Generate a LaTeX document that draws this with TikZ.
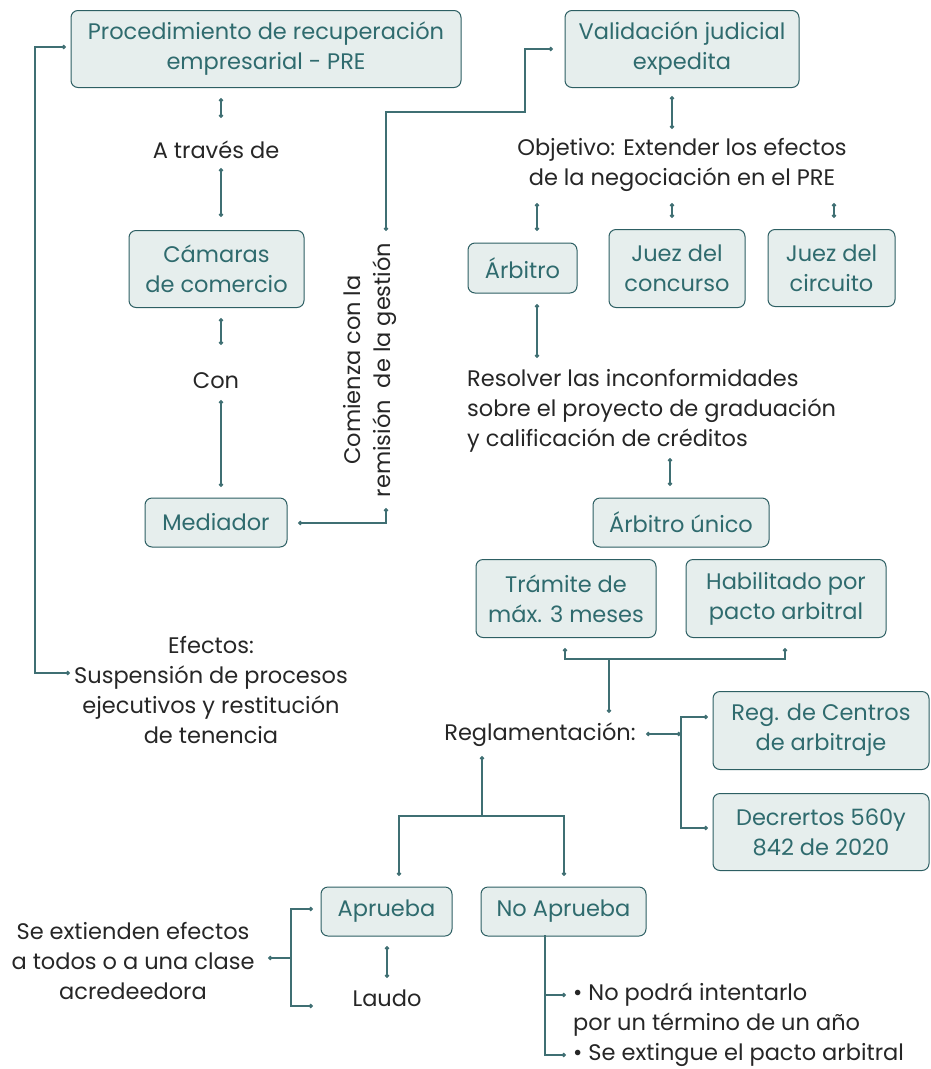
\documentclass[tikz,border=0pt]{standalone}
\usepackage{fontspec}
\setmainfont{Poppins}
\usetikzlibrary{arrows.meta}
\definecolor{boxfill}{HTML}{E6EEED}
\definecolor{boxdraw}{HTML}{2D5F63}
\definecolor{boxtext}{HTML}{2F6B6E}
\definecolor{plaintext}{HTML}{262626}
\definecolor{linecol}{HTML}{3F6F73}
\tikzset{
  box/.style={draw=boxdraw, fill=boxfill, line width=1pt, rounded corners=7pt,
    text=boxtext, align=center, inner sep=0pt, font=\fontsize{22.5}{30}\selectfont},
  plain/.style={text=plaintext, align=center, inner sep=0pt, font=\fontsize{22.5}{30}\selectfont},
  conn/.style={draw=linecol, line width=1.1pt},
  dd/.style={conn, {Circle[length=4.5pt]}-{Circle[length=4.5pt]}},
  de/.style={conn, -{Circle[length=4.5pt]}},
}
\begin{document}
\begin{tikzpicture}[x=1pt,y=-1pt]
\useasboundingbox (0,0) rectangle (931,1069);
% boxes
\node[box, minimum width=390, minimum height=77] (b1) at (266,49) {Procedimiento de recuperación\\empresarial - PRE};
\node[box, minimum width=234, minimum height=77] (b2) at (682,49) {Validación judicial\\expedita};
\node[box, minimum width=175, minimum height=77] (camaras) at (216.5,269) {Cámaras\\de comercio};
\node[box, minimum width=142, minimum height=49] (mediador) at (216,522.5) {Mediador};
\node[box, minimum width=109, minimum height=50] (arbitro) at (522.5,268) {Árbitro};
\node[box, minimum width=136, minimum height=78] (juezc) at (677,268.5) {Juez del\\concurso};
\node[box, minimum width=127, minimum height=77] (juezci) at (831.5,268) {Juez del\\circuito};
\node[box, minimum width=176, minimum height=49] (unico) at (681,522.5) {Árbitro único};
\node[box, minimum width=180, minimum height=78] (tramite) at (566,598.5) {Trámite de\\máx. 3 meses};
\node[box, minimum width=200, minimum height=78] (habil) at (786,598.5) {Habilitado por\\pacto arbitral};
\node[box, minimum width=216, minimum height=78] (reg) at (821,730.5) {Reg. de Centros\\de arbitraje};
\node[box, minimum width=216, minimum height=77] (decr) at (821,832) {Decrertos 560y\\842 de 2020};
\node[box, minimum width=131, minimum height=49] (aprueba) at (386.5,911.5) {Aprueba};
\node[box, minimum width=165, minimum height=49] (noaprueba) at (563.5,911.5) {No Aprueba};
% plain texts
\node[plain] (atraves) at (216,149.5) {A través de};
\node[plain] (con) at (216,380.5) {Con};
\node[plain, rotate=90] (comienza) at (370,370) {Comienza con la\\remisión\ \ de la gestión};
\node[plain] (objetivo) at (682,164.5) {Objetivo: Extender los efectos\\de la negociación en el PRE};
\node[plain, align=left, anchor=west] (resolver) at (467,410.5) {Resolver las inconformidades\\sobre el proyecto de graduación\\y calificación de créditos};
\node[plain] (regl) at (540,734.5) {Reglamentación:};
\node[plain] (laudo) at (387,998.5) {Laudo};
\node[plain] (seext) at (133,960.5) {Se extienden efectos\\a todos o a una clase\\acredeedora};
\node[plain, align=left, anchor=west] (noap) at (573,1024.5) {• No podrá intentarlo\\por un término de un año\\• Se extingue el pacto arbitral};
\node[plain] (efectos) at (211,689.5) {Efectos:\\Suspensión de procesos\\ejecutivos y restitución\\de tenencia};
% connector end points
\coordinate (c1a) at (66,47);   \coordinate (c1b) at (70,673);
\coordinate (c2a) at (221,98);  \coordinate (c2b) at (221,118);
\coordinate (c3a) at (221,168); \coordinate (c3b) at (221,217);
\coordinate (c4a) at (221,318); \coordinate (c4b) at (221,345);
\coordinate (c5a) at (221,400); \coordinate (c5b) at (221,487);
\coordinate (c6a) at (298,523); \coordinate (c6b) at (386,508);
\coordinate (c7a) at (386,231); \coordinate (c7b) at (553,49);
\coordinate (c8a) at (672,96);  \coordinate (c8b) at (672,129);
\coordinate (c9a) at (537,203); \coordinate (c9b) at (537,231);
\coordinate (c10a) at (672,203); \coordinate (c10b) at (672,218);
\coordinate (c11a) at (834,203); \coordinate (c11b) at (834,218);
\coordinate (c12a) at (537,304); \coordinate (c12b) at (537,358);
\coordinate (c13a) at (670,458); \coordinate (c13b) at (670,486);
\coordinate (c14a) at (565,648); \coordinate (c14b) at (785,648);
\coordinate (c14c) at (609,713);
\coordinate (c15a) at (646,734); \coordinate (c15b) at (708,717); \coordinate (c15c) at (708,828);
\coordinate (c16a) at (482,756); \coordinate (c16b) at (399,876); \coordinate (c16c) at (564,876);
\coordinate (c17a) at (387,946); \coordinate (c17b) at (387,978);
\coordinate (c18a) at (268,958); \coordinate (c18b) at (313,909); \coordinate (c18c) at (313,1006);
\coordinate (c19a) at (545,935); \coordinate (c19b) at (566,995); \coordinate (c19c) at (566,1055);
% connectors
\draw[dd] (c1a) -- (35,47) -- (35,673) -- (c1b);
\draw[dd] (c2a) -- (c2b);
\draw[dd] (c3a) -- (c3b);
\draw[dd] (c4a) -- (c4b);
\draw[dd] (c5a) -- (c5b);
\draw[dd] (c6a) -| (c6b);
\draw[dd] (c7a) -- (386,112) -- (525,112) -- (525,49) -- (c7b);
\draw[dd] (c8a) -- (c8b);
\draw[dd] (c9a) -- (c9b);
\draw[dd] (c10a) -- (c10b);
\draw[dd] (c11a) -- (c11b);
\draw[dd] (c12a) -- (c12b);
\draw[dd] (c13a) -- (c13b);
\draw[dd] (c14a) -- (565,659) -- (785,659) -- (c14b);
\draw[de] (609,659) -- (c14c);
\draw[dd] (c15a) -- (681,734);
\draw[dd] (c15b) -- (681,717) -- (681,828) -- (c15c);
\draw[conn, {Circle[length=4.5pt]}-] (c16a) -- (482,816);
\draw[dd] (c16b) -- (399,816) -- (564,816) -- (c16c);
\draw[dd] (c17a) -- (c17b);
\draw[conn, {Circle[length=4.5pt]}-] (c18a) -- (291,958);
\draw[dd] (c18b) -- (291,909) -- (291,1006) -- (c18c);
\draw[de] (c19a) -- (545,1055) -- (c19c);
\draw[de] (545,995) -- (c19b);
\end{tikzpicture}
\end{document}
